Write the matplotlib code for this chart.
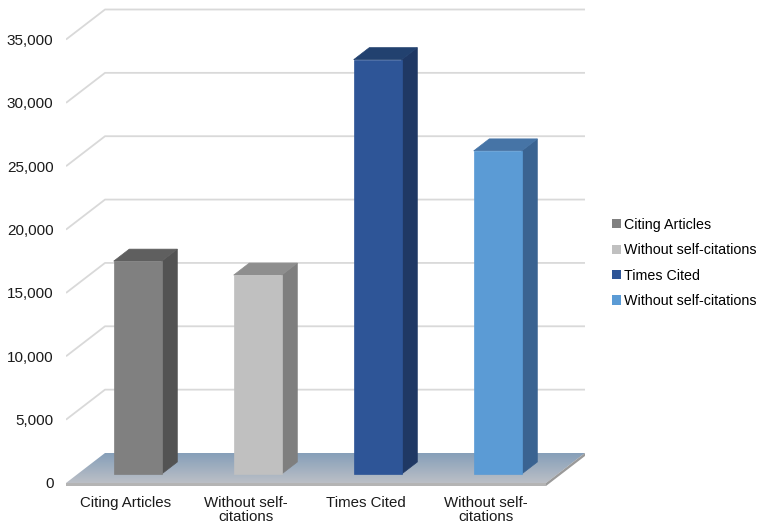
import matplotlib
matplotlib.use("Agg")
import matplotlib.pyplot as plt
import numpy as np
from matplotlib.patches import Polygon, Patch
from matplotlib.ticker import FuncFormatter

categories = ["Citing Articles", "Without self-\ncitations", "Times Cited", "Without self-\ncitations"]
legend_labels = ["Citing Articles", "Without self-citations", "Times Cited", "Without self-citations"]
values = [16800, 15700, 32700, 25500]
yticks = [0, 5000, 10000, 15000, 20000, 25000, 30000, 35000]

front_colors = ["#808080", "#c0c0c0", "#2e5597", "#5b9bd5"]
side_colors = ["#535353", "#7f7f7f", "#1f3864", "#3a6391"]
top_colors = ["#5f5f5f", "#8e8e8e", "#22416f", "#4674a6"]

plt.rcParams["font.family"] = ["Liberation Sans", "DejaVu Sans"]

W, H = 758, 526
fig = plt.figure(figsize=(W / 100, H / 100), dpi=100)

# pixel geometry of the plot box
x0_px, x1_px = 66, 586
ytop_px, ybot_px = 8, 486
zero_px = 483
px_per_unit = 443.5 / 35000
slot_px = 120

ax = fig.add_axes([x0_px / W, (H - ybot_px) / H, (x1_px - x0_px) / W, (ybot_px - ytop_px) / H])
ax.set_xlim(-0.5, -0.5 + (x1_px - x0_px) / slot_px)
ax.set_ylim((zero_px - ybot_px) / px_per_unit, (zero_px - ytop_px) / px_per_unit)

DX = 39 / slot_px            # depth offset in category units
DY = 30 / px_per_unit        # depth offset in value units
n = len(categories)

def P(x, v, d):
    return (x + d * DX, v + d * DY)

# floor top with gradient
floor = Polygon([P(-0.5, 0, 0), P(n - 0.5, 0, 0), P(n - 0.5, 0, 1), P(-0.5, 0, 1)],
                closed=True, facecolor="none", edgecolor="none")
ax.add_patch(floor)
grad = np.linspace(0, 1, 64).reshape(-1, 1)
c_back = np.array([0x86, 0x9f, 0xb9]) / 255
c_front = np.array([0xbb, 0xbf, 0xc6]) / 255
img = c_front[None, None, :] * (1 - grad[..., None]) + c_back[None, None, :] * grad[..., None]
im = ax.imshow(img, extent=(-0.5, n - 0.5 + DX, 0, DY), origin="lower", aspect="auto", zorder=1)
im.set_clip_path(floor)
# slab front and right edge
slab_t = 3 / px_per_unit
ax.add_patch(Polygon([(-0.5, 0), (n - 0.5, 0), (n - 0.5, -slab_t), (-0.5, -slab_t)],
                     closed=True, facecolor="#b4b4b4", edgecolor="none", zorder=2))
ax.add_patch(Polygon([P(n - 0.5, 0, 0), P(n - 0.5, 0, 1), P(n - 0.5, -slab_t, 1), P(n - 0.5, -slab_t, 0)],
                     closed=True, facecolor="#9a9a9a", edgecolor="none", zorder=2))

# gridlines (left wall diagonal + back wall)
for t in yticks[1:]:
    xs = [-0.5, -0.5 + DX, n - 0.5 + DX]
    vs = [t, t + DY, t + DY]
    ax.plot(xs, vs, color="#d9d9d9", lw=1.3, zorder=0.5, solid_capstyle="butt")

# bars
w = 0.4
d0, d1 = 0.3, 0.7
for i, v in enumerate(values):
    xl, xr = i - w / 2, i + w / 2
    front = [P(xl, 0, d0), P(xr, 0, d0), P(xr, v, d0), P(xl, v, d0)]
    side = [P(xr, 0, d0), P(xr, 0, d1), P(xr, v, d1), P(xr, v, d0)]
    top = [P(xl, v, d0), P(xr, v, d0), P(xr, v, d1), P(xl, v, d1)]
    ax.add_patch(Polygon(side, closed=True, facecolor=side_colors[i], edgecolor=side_colors[i], lw=0.5, zorder=3))
    ax.add_patch(Polygon(top, closed=True, facecolor=top_colors[i], edgecolor=top_colors[i], lw=0.5, zorder=3))
    ax.add_patch(Polygon(front, closed=True, facecolor=front_colors[i], edgecolor=front_colors[i], lw=0.5, zorder=3))

# axes styling
for s in ax.spines.values():
    s.set_visible(False)
ax.set_yticks(yticks)
ax.yaxis.set_major_formatter(FuncFormatter(lambda x, p: f"{int(x):,}"))
ax.set_xticks(range(n))
ax.set_xticklabels(categories)
ax.tick_params(axis="y", length=0, pad=9, labelsize=11, labelcolor="#1a1a1a")
ax.tick_params(axis="x", length=0, pad=7, labelsize=10.8, labelcolor="#1a1a1a")
for lbl in ax.get_xticklabels():
    lbl.set_linespacing(1.0)
ax.patch.set_visible(False)

# legend
handles = [Patch(facecolor=c, edgecolor="none") for c in front_colors]
fig.legend(handles, legend_labels, loc="center left", bbox_to_anchor=(612 / W, 1 - 263 / H),
           frameon=False, fontsize=10.3, handlelength=0.62, handleheight=0.62,
           handletextpad=0.22, labelspacing=0.8, borderaxespad=0, borderpad=0)

fig.savefig("out.png", dpi=100)
